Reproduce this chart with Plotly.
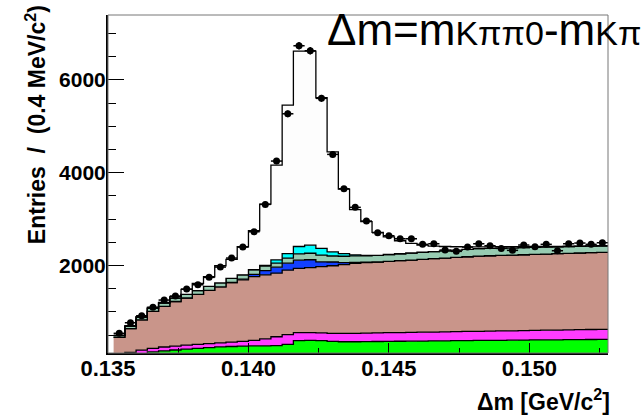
import numpy as np
import plotly.graph_objects as go

# ---- binning (0.4 MeV bins) ----
bin_lo = 0.1352
bin_w = 0.0004
n_bins = 44
edges = np.round(bin_lo + bin_w * np.arange(n_bins + 1), 6)
centers = edges[:-1] + bin_w / 2

# ---- data points ----
data_y = [539, 767, 918, 1099, 1256, 1343, 1493, 1586, 1745, 1967, 2161, 2398,
          2728, 3318, 4252, 5271, 6737, 6629, 5603, 4396, 3655,
          3254, 2959, 2707, 2642, 2577, 2577, 2457, 2470, 2334, 2306, 2398, 2470,
          2427, 2370, 2327, 2442, 2405, 2457, 2319, 2470, 2485, 2457, 2492]

# ---- stacked components (bottom -> top) ----
green = [20, 50, 90, 140, 160, 180, 200, 215, 230, 245, 255, 265, 270, 270, 275, 300,
         380, 385, 380, 365, 358, 358, 360, 363, 365, 368, 370, 372, 375, 377, 380,
         382, 385, 387, 389, 391, 393, 396, 398, 400, 402, 404, 406, 409]
magenta = [40, 79, 89, 76, 84, 85, 85, 85, 88, 90, 95, 100, 115, 150, 190, 210,
           172, 171, 170, 175, 181, 182, 184, 185, 187, 188, 190, 191, 192, 194, 195,
           197, 198, 200, 202, 203, 205, 206, 208, 210, 212, 213, 215, 216]
brown = [390, 511, 651, 794, 876, 960, 1015, 1080, 1147, 1205, 1280, 1326, 1375, 1379,
         1370, 1390, 1388, 1399, 1425, 1456, 1481, 1507, 1517, 1528, 1538, 1548, 1558,
         1570, 1580, 1590, 1600, 1611, 1621, 1624, 1627, 1632, 1635, 1638, 1642, 1645,
         1648, 1653, 1656, 1659]
blue = [0, 0, 0, 0, 0, 0, 0, 0, 0, 0, 5, 15, 50, 90, 130, 150, 175, 170, 105, 80, 45,
        20, 10, 0, 0, 0, 0, 0, 0, 0, 0, 0, 0, 0, 0, 0, 0, 0, 0, 0, 0, 0, 0, 0]
seafoam = [40, 50, 55, 65, 70, 75, 80, 80, 85, 85, 90, 95, 95, 100, 85, 110, 135, 140,
           145, 130, 135, 140, 140, 145, 148, 150, 152, 154, 155, 156, 157, 158, 160,
           158, 156, 154, 152, 150, 148, 146, 144, 142, 140, 138]
cyan = [0, 0, 0, 0, 0, 0, 0, 0, 0, 0, 0, 0, 5, 15, 70, 95, 160, 175, 145, 90, 55, 25,
        10, 0, 0, 0, 0, 0, 0, 0, 0, 0, 0, 0, 0, 0, 0, 0, 0, 0, 0, 0, 0, 0]
signal = [12, 13, 11, 24, 17, 28, 107, 156, 208, 371, 408, 604, 840, 1321, 2046, 3204,
          4212, 4182, 3246, 2156, 1393, 973, 724, 494, 382, 280, 208, 153, 118, 93, 73,
          54, 38, 34, 31, 26, 23, 20, 16, 14, 12, 8, 6, 5]

components = [
    ("green", green, "#00ff00"),
    ("magenta", magenta, "#ff3cff"),
    ("brown", brown, "#c9958a"),
    ("blue", blue, "#1240ff"),
    ("seafoam", seafoam, "#97cbb1"),
    ("cyan", cyan, "#00ffff"),
    ("signal", signal, "#fdfdfd"),
]

FONT = "Liberation Sans"
fig = go.Figure()

for name, vals, col in components:
    fig.add_trace(go.Scatter(
        x=list(edges), y=list(vals) + [vals[-1]],
        mode="lines", line=dict(shape="hv", color="black", width=1.3),
        fillcolor=col, stackgroup="bkg", name=name, showlegend=False,
        hoverinfo="skip"))

fig.add_trace(go.Scatter(
    x=list(centers), y=data_y, mode="markers",
    marker=dict(color="black", size=7, symbol="circle"),
    error_y=dict(type="data", array=list(np.sqrt(data_y)), color="black", thickness=1.5, width=0),
    error_x=dict(type="constant", value=bin_w / 2, color="black", thickness=1.5, width=0),
    showlegend=False))

fig.update_layout(
    width=642, height=417,
    margin=dict(l=108, r=34, t=15, b=64),
    paper_bgcolor="white", plot_bgcolor="white",
    font=dict(family=FONT, color="black"),
)
fig.update_xaxes(
    range=[0.135, 0.1528], tick0=0.135, dtick=0.005, tickformat=".3f",
    showline=True, linecolor="black", linewidth=2, mirror=False,
    ticks="inside", ticklen=10, tickwidth=1.3, tickcolor="black",
    minor=dict(dtick=0.0025, tick0=0.135, ticks="inside", ticklen=5, tickcolor="black", tickwidth=1.3),
    showgrid=False, zeroline=False, ticklabelstandoff=-5,
    tickfont=dict(family=FONT, size=22, weight="bold", color="black"),
)
fig.update_yaxes(
    range=[115, 7400], tick0=0, dtick=2000,
    showline=True, linecolor="black", linewidth=2, mirror=False,
    ticks="inside", ticklen=16, tickwidth=1.3, tickcolor="black",
    minor=dict(dtick=500, tick0=0, ticks="inside", ticklen=8, tickcolor="black", tickwidth=1.3),
    showgrid=False, zeroline=False, ticklabelstandoff=-4,
    tickfont=dict(family=FONT, size=21, weight="bold", color="black"),
)
# thin frame on top/right
fig.add_shape(type="rect", xref="paper", yref="paper", x0=0, y0=0, x1=1, y1=1,
              line=dict(color="#777777", width=1), layer="above")

fig.add_annotation(
    text='Δm=m<span style="font-size:34px">Kππ0</span>-m<span style="font-size:34px">Kπ</span>',
    xref="paper", yref="paper", x=0.434, y=1.035, xanchor="left", yanchor="top",
    showarrow=False, font=dict(family=FONT, size=44, color="black"))
fig.add_annotation(
    text="Entries  /  (0.4 MeV/c<sup>2</sup>)", textangle=-90,
    xref="paper", yref="paper", x=-0.145, y=1.035, xanchor="center", yanchor="top",
    showarrow=False, font=dict(family=FONT, size=23, weight="bold", color="black"))
fig.add_annotation(
    text="Δm [GeV/c<sup>2</sup>]",
    xref="paper", yref="paper", x=1.008, y=-0.139, xanchor="right", yanchor="middle",
    showarrow=False, font=dict(family=FONT, size=23, weight="bold", color="black"))

fig.write_html("out.html")
